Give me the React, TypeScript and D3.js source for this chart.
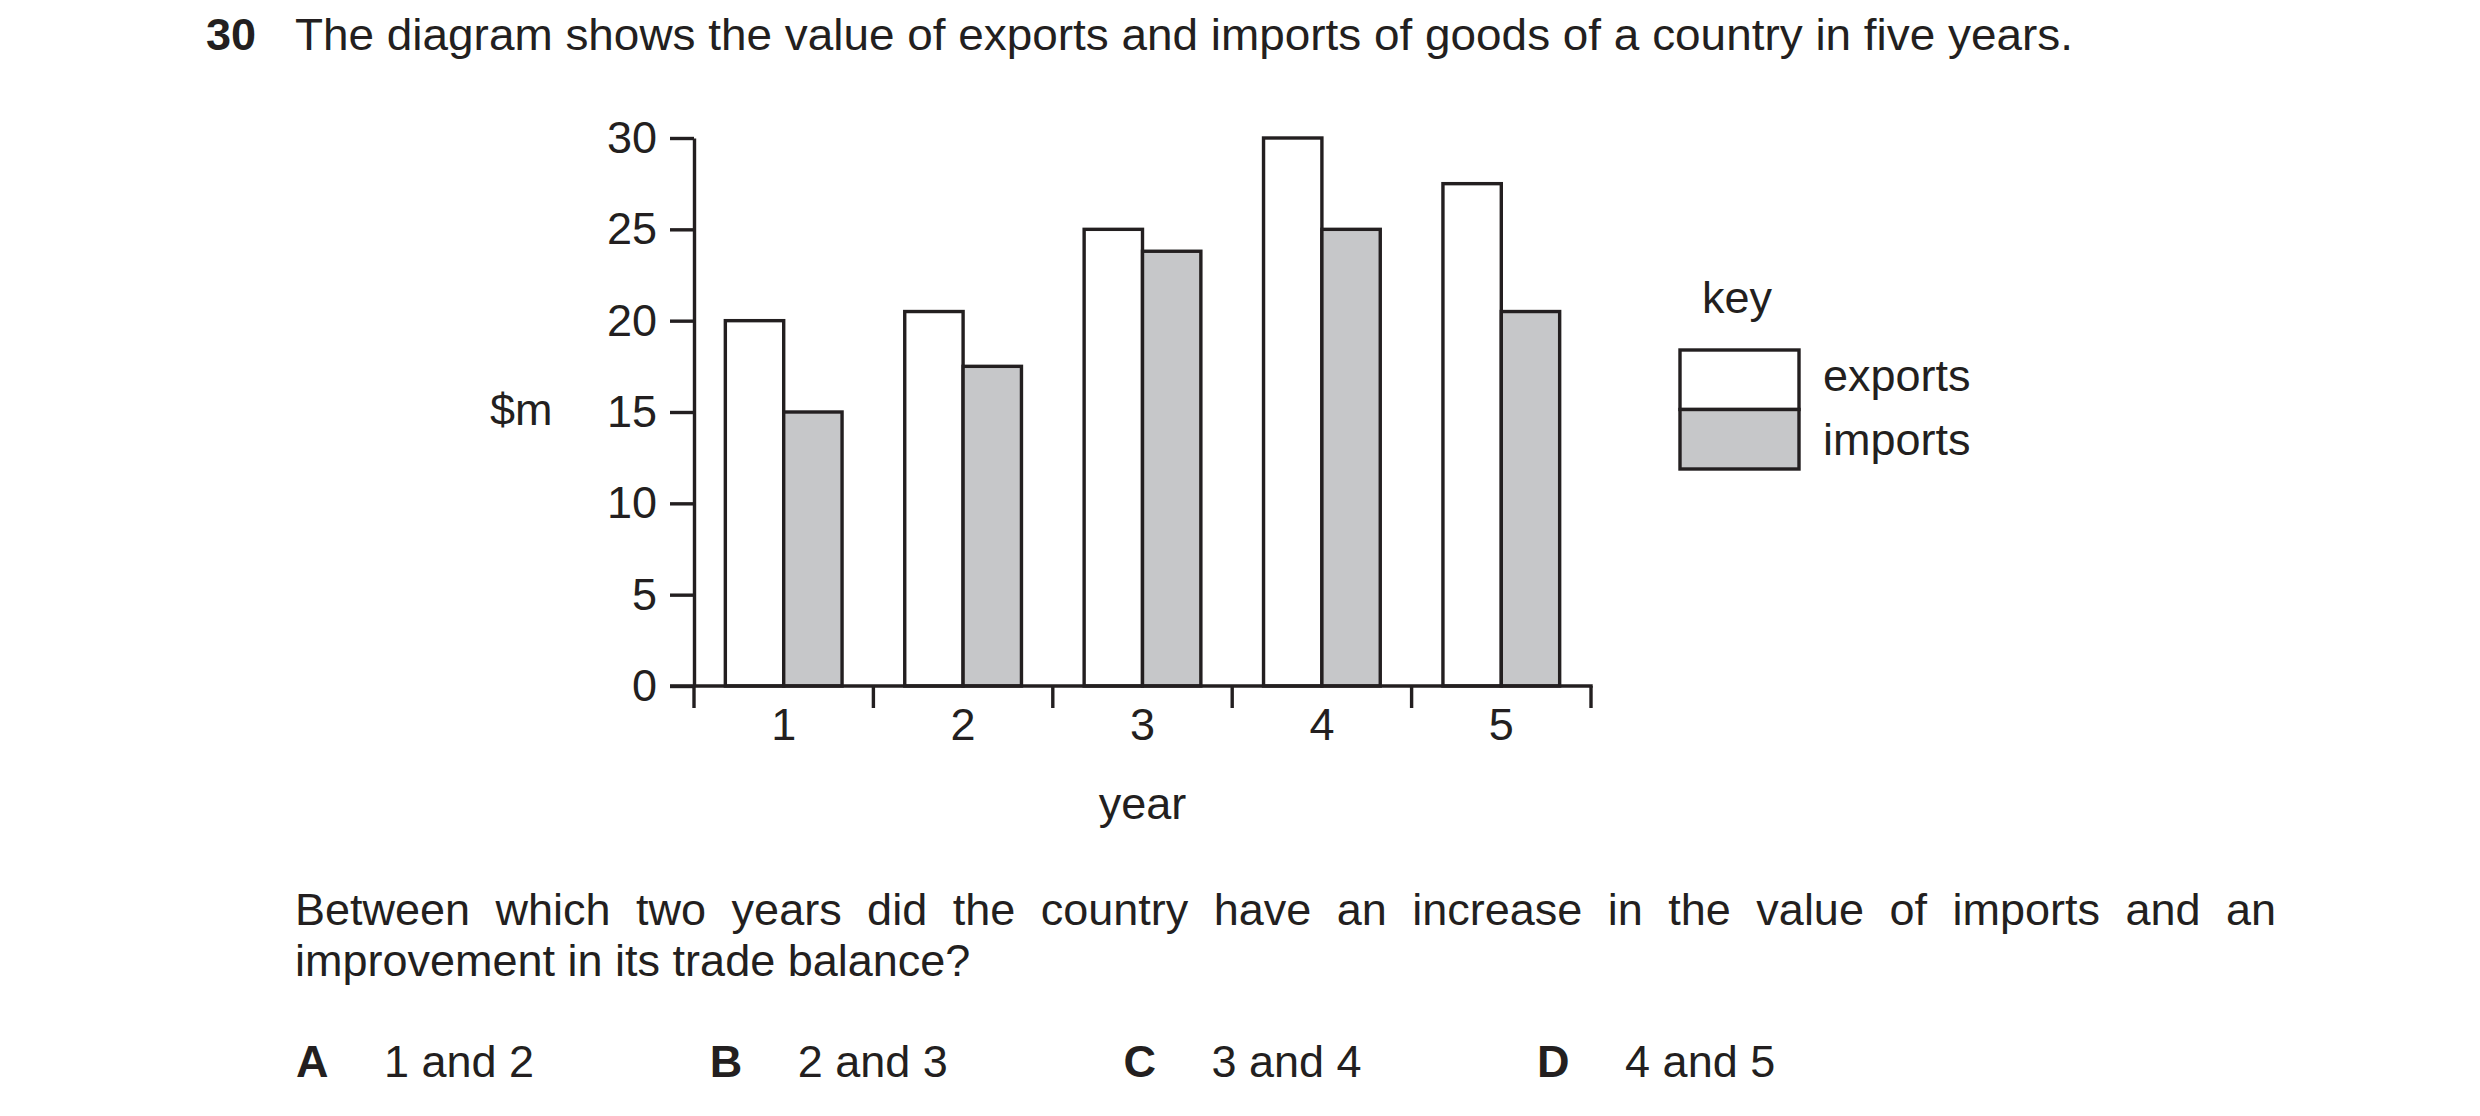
import { useEffect, useRef } from 'react';
import * as d3 from 'd3';

// chart data
const YEARS = ['1', '2', '3', '4', '5'];
const SERIES = ['exports', 'imports'];
const EXPORTS = [20, 20.5, 25, 30, 27.5];
const IMPORTS = [15, 17.5, 23.8, 25, 20.5];
const Y_TICKS = [0, 5, 10, 15, 20, 25, 30];

const QUESTION_NO = '30';
const TITLE = 'The diagram shows the value of exports and imports of goods of a country in five years.';
const QUESTION = [
  'Between which two years did the country have an increase in the value of imports and an',
  'improvement in its trade balance?',
];
const OPTION_KEYS = ['A', 'B', 'C', 'D'];
const OPTION_TEXT = ['1 and 2', '2 and 3', '3 and 4', '4 and 5'];

const W = 2480;
const H = 1116;
const INK = '#231f20';
const GREY = '#c6c7c9';
const FONT = '"Liberation Sans", Arial, Helvetica, sans-serif';
const FS = 45;
const SW = 3.4;

export default function App() {
  const svgRef = useRef<SVGSVGElement>(null);

  useEffect(() => {
    if (!svgRef.current) return;
    const svg = d3.select(svgRef.current);
    svg.selectAll('*').remove();

    const txt = (x: number, y: number, s: string) =>
      svg.append('text')
        .attr('x', x)
        .attr('y', y)
        .attr('font-family', FONT)
        .attr('font-size', FS)
        .attr('fill', INK)
        .text(s);

    // question header
    txt(206, 50, QUESTION_NO).attr('font-weight', 'bold');
    txt(295, 50, TITLE).attr('textLength', 1778).attr('lengthAdjust', 'spacingAndGlyphs');

    // scales
    const y = d3.scaleLinear().domain([0, 30]).range([686, 138]);
    const x = d3.scaleBand<string>().domain(YEARS).range([694, 1591]);
    const xs = d3.scaleBand<string>().domain(SERIES).range([0, x.bandwidth()]).paddingOuter(0.537);

    const rows = YEARS.map((yr, i) => ({ yr, exports: EXPORTS[i], imports: IMPORTS[i] }));
    const fills: Record<string, string> = { exports: '#ffffff', imports: GREY };

    // bars
    const groups = svg.append('g')
      .selectAll('g')
      .data(rows)
      .enter()
      .append('g')
      .attr('transform', d => `translate(${x(d.yr)},0)`);

    groups.selectAll('rect')
      .data(d => SERIES.map(s => ({ key: s, value: (d as any)[s] as number })))
      .enter()
      .append('rect')
      .attr('x', d => xs(d.key)!)
      .attr('y', d => y(d.value))
      .attr('width', xs.bandwidth())
      .attr('height', d => y(0) - y(d.value))
      .attr('fill', d => fills[d.key])
      .attr('stroke', INK)
      .attr('stroke-width', SW);

    // y axis
    const yAxis = svg.append('g')
      .attr('transform', `translate(${x.range()[0]},0)`)
      .call(d3.axisLeft(y).tickValues(Y_TICKS).tickSize(24).tickPadding(13).tickSizeOuter(0));
    yAxis.select('.domain').attr('stroke', INK).attr('stroke-width', SW);
    yAxis.selectAll('.tick line').attr('stroke', INK).attr('stroke-width', SW);
    yAxis.selectAll('.tick text')
      .attr('font-family', FONT)
      .attr('font-size', FS)
      .attr('fill', INK);

    // x axis baseline and year boundary ticks
    const [x0, x1] = x.range();
    svg.append('line')
      .attr('x1', x0 - 24).attr('x2', x1 + SW / 2)
      .attr('y1', y(0)).attr('y2', y(0))
      .attr('stroke', INK).attr('stroke-width', SW);
    const bounds = [...YEARS.map(d => x(d)!), x1];
    svg.append('g')
      .selectAll('line')
      .data(bounds)
      .enter()
      .append('line')
      .attr('x1', d => d).attr('x2', d => d)
      .attr('y1', y(0)).attr('y2', y(0) + 22)
      .attr('stroke', INK).attr('stroke-width', SW);

    const xAxis = svg.append('g')
      .attr('transform', `translate(0,${y(0)})`)
      .call(d3.axisBottom(x).tickSize(0).tickPadding(22));
    xAxis.select('.domain').remove();
    xAxis.selectAll('.tick text')
      .attr('font-family', FONT)
      .attr('font-size', FS)
      .attr('fill', INK);

    // axis titles
    txt((x0 + x1) / 2, 819, 'year').attr('text-anchor', 'middle');
    txt(490, 425, '$m');

    // key
    txt(1702, 313, 'key');
    const boxH = 59.5;
    SERIES.forEach((s, i) => {
      svg.append('rect')
        .attr('x', 1680)
        .attr('y', 350 + i * boxH)
        .attr('width', 119)
        .attr('height', boxH)
        .attr('fill', fills[s])
        .attr('stroke', INK)
        .attr('stroke-width', SW);
    });
    txt(1823, 391, SERIES[0]);
    txt(1823, 455, SERIES[1]);

    // question text, first line justified
    const right = 2276;
    QUESTION.forEach((line, i) => {
      const t = txt(295, 925 + i * 51, line);
      if (i === 0) {
        const node = t.node() as SVGTextElement;
        const len = node.getComputedTextLength();
        const gaps = line.split(' ').length - 1;
        t.attr('word-spacing', (right - 295 - len) / gaps);
      }
    });

    // answer options
    OPTION_KEYS.forEach((k, i) => {
      const ox = 296 + i * 413.7;
      txt(ox, 1077, k).attr('font-weight', 'bold');
      txt(ox + 88, 1077, OPTION_TEXT[i]);
    });
  }, []);

  return (
    <div style={{ position: 'absolute', left: 0, top: 0 }}>
      <svg ref={svgRef} width={W} height={H} style={{ display: 'block', background: '#fff' }} />
    </div>
  );
}
